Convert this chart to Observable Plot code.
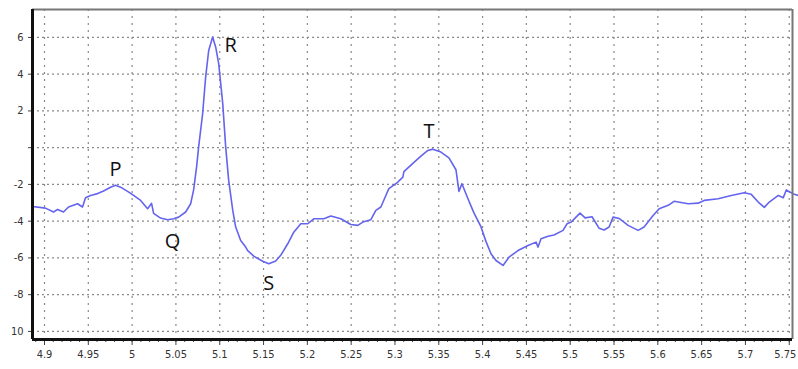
<!DOCTYPE html>
<html>
<head>
<meta charset="utf-8">
<script src="https://cdn.jsdelivr.net/npm/d3@7"></script>
<script src="https://cdn.jsdelivr.net/npm/@observablehq/plot@0.6"></script>
<style>
  html, body { margin: 0; padding: 0; background: #fff; }
  #chart svg { display: block; }
</style>
</head>
<body>
<div id="chart"></div>
<script>
// ECG trace: time (s) and amplitude
const times = [
  4.8863, 4.9011, 4.9103, 4.9149, 4.9217, 4.9274, 4.9377, 4.9434, 4.9468, 4.9526,
  4.9606, 4.9674, 4.9754, 4.9811, 4.9868, 4.9948, 5.0017, 5.0097, 5.0177, 5.0222,
  5.0245, 5.0325, 5.0405, 5.0474, 5.0531, 5.0611, 5.0668, 5.0702, 5.0737, 5.0759,
  5.0805, 5.0839, 5.0874, 5.0919, 5.0954, 5.0988, 5.1034, 5.1068, 5.1102, 5.1148,
  5.1182, 5.1239, 5.1296, 5.1319, 5.1388, 5.1491, 5.1559, 5.1639, 5.1696, 5.1776,
  5.1845, 5.1925, 5.2005, 5.2073, 5.2188, 5.2268, 5.2382, 5.2496, 5.2576, 5.2633,
  5.2725, 5.2782, 5.2839, 5.2896, 5.2930, 5.3033, 5.3090, 5.3102, 5.3204, 5.3296,
  5.3376, 5.3433, 5.3524, 5.3616, 5.3696, 5.3730, 5.3764, 5.3833, 5.3901, 5.3981,
  5.4038, 5.4096, 5.4153, 5.4233, 5.4301, 5.4404, 5.4518, 5.4610, 5.4633, 5.4667,
  5.4747, 5.4815, 5.4918, 5.4964, 5.5010, 5.5112, 5.5170, 5.5249, 5.5329, 5.5387,
  5.5444, 5.5489, 5.5558, 5.5661, 5.5775, 5.5843, 5.5946, 5.6015, 5.6118, 5.6186,
  5.6346, 5.6460, 5.6529, 5.6689, 5.6838, 5.6986, 5.7066, 5.7146, 5.7215, 5.7272,
  5.7375, 5.7432, 5.7466, 5.7557, 5.7603
];
const values = [
  -3.20, -3.29, -3.50, -3.36, -3.50, -3.23, -3.05, -3.23, -2.72, -2.60,
  -2.50, -2.36, -2.15, -2.05, -2.15, -2.38, -2.60, -2.87, -3.32, -3.03,
  -3.58, -3.83, -3.92, -3.87, -3.78, -3.50, -3.05, -2.30, -1.00, 0.03,
  1.86, 3.84, 5.29, 6.02, 5.47, 4.57, 2.41, 0.03, -1.78, -3.40,
  -4.32, -5.05, -5.41, -5.60, -5.90, -6.18, -6.32, -6.17, -5.86, -5.23,
  -4.60, -4.14, -4.14, -3.87, -3.87, -3.72, -3.87, -4.18, -4.23, -4.05,
  -3.92, -3.41, -3.23, -2.60, -2.23, -1.87, -1.60, -1.30, -0.85, -0.46,
  -0.15, -0.08, -0.24, -0.55, -1.20, -2.38, -1.96, -2.78, -3.55, -4.30,
  -5.10, -5.77, -6.14, -6.41, -5.96, -5.60, -5.32, -5.14, -5.41, -4.96,
  -4.82, -4.75, -4.50, -4.14, -4.05, -3.56, -3.82, -3.76, -4.38, -4.48,
  -4.32, -3.78, -3.85, -4.23, -4.50, -4.32, -3.69, -3.32, -3.14, -2.92,
  -3.05, -3.02, -2.87, -2.78, -2.60, -2.45, -2.54, -2.96, -3.25, -2.96,
  -2.60, -2.72, -2.30, -2.54, -2.60
];

// Wave labels
const waveNames = ["P", "Q", "R", "S", "T"];
const waveTimes = [4.9811, 5.0462, 5.1125, 5.1559, 5.3387];
const waveValues = [-1.18, -5.10, 5.56, -7.39, 0.88];

// Axis ticks
const xTicks = [4.9, 4.95, 5, 5.05, 5.1, 5.15, 5.2, 5.25, 5.3, 5.35, 5.4, 5.45, 5.5, 5.55, 5.6, 5.65, 5.7, 5.75];
const yTicks = [-10, -8, -6, -4, -2, 0, 2, 4, 6];
const yTickLabels = ["10", "-8", "-6", "-4", "-2", "", "2", "4", "6"];
const xMinorTicks = d3.range(489, 576).map(d => d / 100);

const xDomain = [4.8863, 5.7537];
const yDomain = [-10.44, 7.52];

const trace = times.map((t, i) => ({t, v: values[i]}));
const waves = waveNames.map((name, i) => ({name, t: waveTimes[i], v: waveValues[i]}));
const lastX = xTicks[xTicks.length - 1];
const fmtX = d => String(+d.toFixed(2));

const font = "'Liberation Sans Narrow', 'DejaVu Sans Condensed', 'Liberation Sans', sans-serif";

const chart = Plot.plot({
  width: 798,
  height: 369,
  marginLeft: 32,
  marginRight: 6,
  marginTop: 9,
  marginBottom: 30,
  x: {domain: xDomain, label: null},
  y: {domain: yDomain, label: null},
  style: {fontFamily: font, fontSize: "11px", color: "#333", background: "#fff"},
  marks: [
    Plot.ruleY(yTicks, {stroke: "#8a8a8a", strokeDasharray: "2,3", strokeWidth: 1.2}),
    Plot.ruleX(xTicks, {stroke: "#8a8a8a", strokeDasharray: "2,5", strokeWidth: 1.2}),
    Plot.line(trace, {x: "t", y: "v", stroke: "#6464ee", strokeWidth: 1.6}),
    Plot.text(waves, {x: "t", y: "v", text: "name", fontSize: 20, fill: "#111",
      fontFamily: "'Open Sans', 'Noto Sans', sans-serif"}),
    Plot.axisY({ticks: yTicks, tickSize: 4, tickPadding: 5, label: null,
      tickFormat: d => yTickLabels[yTicks.indexOf(d)], stroke: "#444"}),
    Plot.axisX({ticks: xMinorTicks, tickSize: 3, tickFormat: () => "", label: null, stroke: "#444"}),
    Plot.axisX({ticks: xTicks, tickSize: 6, tickPadding: 5, label: null,
      tickFormat: d => d === lastX ? "" : fmtX(d), stroke: "#444"}),
    Plot.axisX({ticks: [lastX], tickSize: 0, tickPadding: 11, dx: -4, label: null,
      tickFormat: fmtX}),
    Plot.ruleY([yDomain[1]], {stroke: "#777", strokeWidth: 2}),
    Plot.ruleX([xDomain[1]], {stroke: "#777", strokeWidth: 2}),
    Plot.ruleX([xDomain[0]], {stroke: "#111", strokeWidth: 3}),
    Plot.ruleY([yDomain[0]], {stroke: "#111", strokeWidth: 3})
  ]
});
document.getElementById("chart").appendChild(chart);
</script>
</body>
</html>
